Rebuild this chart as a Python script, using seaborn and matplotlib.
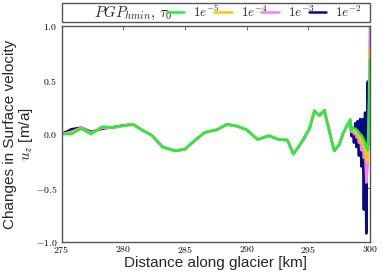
import matplotlib
matplotlib.use("Agg")
import matplotlib.pyplot as plt
import numpy as np
import pandas as pd
import seaborn as sns
from matplotlib.lines import Line2D
from matplotlib.patches import Rectangle
from matplotlib.ticker import FuncFormatter, MultipleLocator

# --------------------
# Data
# --------------------
distance_km = [
    275.0, 275.8, 276.6, 277.4, 278.3, 279.2, 280.0, 280.8, 281.5, 282.3,
    283.2, 284.2, 285.0, 285.8, 286.6, 287.6, 288.4, 289.2, 290.0, 290.9,
    291.8, 292.6, 293.3, 293.8, 294.6, 295.1, 295.5, 295.9, 296.3, 296.7,
    297.1, 297.5, 297.8, 298.1,
    298.4, 298.5, 298.6, 298.7, 298.8, 298.9, 299.0, 299.1, 299.2, 299.3,
    299.4, 299.5, 299.6, 299.7, 299.8, 299.9, 300.0,
]

common_part = [
    0.09, 0.04, -0.01, -0.12, -0.155, -0.14, -0.06, 0.015, 0.04, 0.09,
    0.074, 0.04, -0.05, -0.015, -0.05, -0.055, -0.185, -0.05, 0.05, 0.215,
    0.17, 0.22, 0.03, -0.155, -0.1, 0.0, 0.07,
]

tau_1e5 = [0.0, 0.0, 0.05, 0.0, 0.07, 0.06, 0.077] + common_part + [
    0.136, 0.03, 0.06, 0.05, 0.05, 0.04, 0.03, 0.01, 0.0, -0.01,
    -0.03, -0.055, -0.08, -0.12, -0.15, 0.04, 0.69,
]
tau_1e4 = [0.0, 0.01, 0.055, 0.005, 0.065, 0.06, 0.077] + common_part + [
    0.136, 0.03, 0.05, 0.03, 0.04, 0.01, 0.02, -0.03, -0.02, -0.08,
    -0.05, -0.12, -0.15, -0.2, -0.26, 0.05, 0.78,
]
tau_1e3 = [0.0, 0.02, 0.06, 0.01, 0.06, 0.06, 0.077] + common_part + [
    0.13, 0.02, 0.04, 0.0, 0.03, -0.03, 0.0, -0.08, -0.03, -0.15,
    -0.08, -0.22, -0.15, -0.45, -0.3, 0.1, 1.2,
]
tau_1e2 = [0.0, 0.045, 0.06, 0.02, 0.05, 0.065, 0.08] + common_part + [
    0.12, -0.02, 0.05, -0.08, 0.1, -0.12, 0.12, -0.2, 0.14, -0.3,
    0.14, -0.7, 0.2, -0.92, 0.48, -0.1, 0.3,
]

tau_labels = ["1e-2", "1e-3", "1e-4", "1e-5"]  # drawing order (bottom to top)
tau_colors = {"1e-5": "#22ee44", "1e-4": "#ffc800", "1e-3": "#ee82ee", "1e-2": "#0a0a80"}
legend_title = r"$PGP_{hmin},\, \tau_0$"
legend_labels = [r"$1e^{-5}$", r"$1e^{-4}$", r"$1e^{-3}$", r"$1e^{-2}$"]

df = pd.concat(
    [
        pd.DataFrame({"distance": distance_km, "du": vals, "tau": lab})
        for lab, vals in zip(tau_labels, [tau_1e2, tau_1e3, tau_1e4, tau_1e5])
    ],
    ignore_index=True,
)

# --------------------
# Plot
# --------------------
sns.set_theme(style="white")
plt.rcParams["font.family"] = ["Liberation Sans", "DejaVu Sans"]
plt.rcParams["mathtext.fontset"] = "cm"

fig = plt.figure(figsize=(3.82, 2.72), dpi=100)
ax = fig.add_axes([0.161, 0.110, 0.8076, 0.794])

sns.lineplot(
    data=df,
    x="distance",
    y="du",
    hue="tau",
    hue_order=tau_labels,
    palette=tau_colors,
    sort=False,
    estimator=None,
    linewidth=1.8,
    legend=False,
    ax=ax,
)

ax.set_xlim(275, 300)
ax.set_ylim(-1.0, 1.0)
ax.xaxis.set_major_locator(MultipleLocator(5))
ax.yaxis.set_major_locator(MultipleLocator(0.5))
ax.xaxis.set_major_formatter(FuncFormatter(lambda v, _: f"${v:.0f}$"))
ax.yaxis.set_major_formatter(FuncFormatter(lambda v, _: f"${v:.1f}$"))
ax.tick_params(direction="in", length=3, width=0.6, colors="#555555",
               labelcolor="black", labelsize=7, top=True, right=True, pad=3)
ax.tick_params(axis="x", pad=1.5)
for sp in ax.spines.values():
    sp.set_color("#555555")
    sp.set_linewidth(1.0)

ax.set_xlabel("Distance along glacier [km]", fontsize=11)
ax.xaxis.set_label_coords(0.5, -0.065)
ax.set_ylabel("Changes in Surface velocity\n" + r"$\boldsymbol{u_z}$ [m/a]", fontsize=11,
              linespacing=1.0)
ax.yaxis.set_label_coords(-0.085, 0.5)

# legend box spanning the axes width, entries right aligned inside it
ax.add_patch(Rectangle((0.0, 1.0185), 1.0, 0.088, transform=ax.transAxes,
                       facecolor="white", edgecolor="#555555", lw=1.0, clip_on=False))
handles = [Line2D([], [], color="none")]
handles += [Line2D([], [], color=tau_colors[t], lw=1.8) for t in ["1e-5", "1e-4", "1e-3", "1e-2"]]
leg = ax.legend(
    handles, [legend_title] + legend_labels,
    ncol=5, loc="center right",
    bbox_to_anchor=(0.975, 1.062),
    handletextpad=0.68, handlelength=1.36,
    columnspacing=-0.5, borderaxespad=0.0, borderpad=0.0, fontsize=9.5,
    frameon=False,
)
leg.get_texts()[0].set_fontsize(10.7)

fig.savefig("out.png", dpi=100)
